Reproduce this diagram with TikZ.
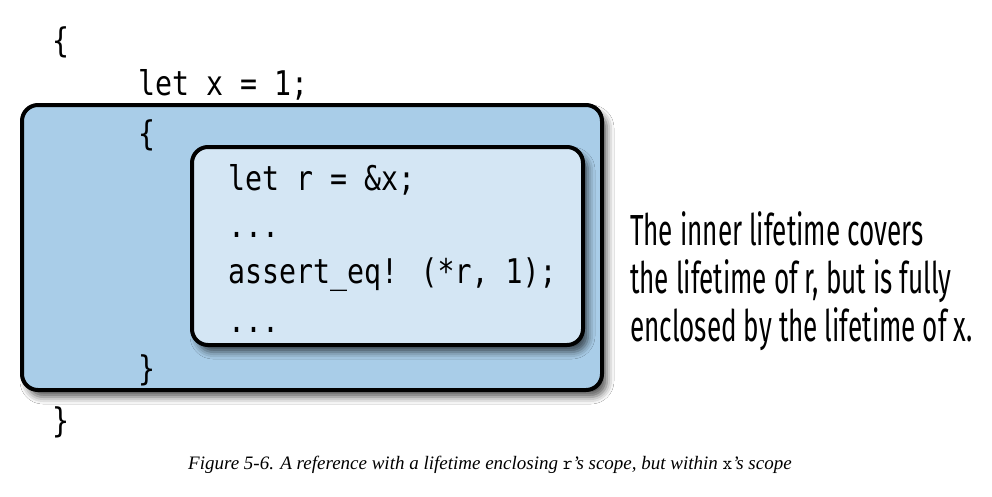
\documentclass[tikz,border=0pt]{standalone}
\usepackage{fontspec}
\usetikzlibrary{shadows.blur}
\newfontfamily\codefont{DejaVu Sans Mono}[FakeStretch=0.83]
\newfontfamily\notefont{Fira Sans}[FakeStretch=0.60]
\newfontfamily\capfont{Liberation Serif}
\definecolor{outerblue}{HTML}{A9CDE8}
\definecolor{innerblue}{HTML}{D4E6F4}
\tikzset{
  scopebox/.style={draw=black, line width=4pt, rounded corners=16pt,
    blur shadow={shadow xshift=5pt, shadow yshift=-7pt, shadow blur radius=7pt, shadow opacity=65}},
  code/.style={font=\codefont\fontsize{34}{40}\selectfont, anchor=base west, inner sep=0pt},
  note/.style={font=\notefont\fontsize{43.5}{48}\selectfont, anchor=base west, inner sep=0pt},
  caption/.style={font=\capfont\itshape\fontsize{19}{22}\selectfont, anchor=base west, inner sep=0pt}
}
\begin{document}
\begin{tikzpicture}[x=1pt,y=-1pt]
\useasboundingbox (0,0) rectangle (992,496);
\fill[white] (0,0) rectangle (992,496);
% outer scope box
\path[scopebox, fill=outerblue] (22,105) rectangle (602,390);
\coordinate (outerbox) at (312,247);
% inner scope box
\path[scopebox, fill=innerblue] (192,147) rectangle (583,345);
\coordinate (innerbox) at (387,246);
% code
\node[code] (b1) at (52,52) {\{};
\node[code] (l1) at (138,95) {let x = 1;};
\node[code] (b2) at (138,145) {\{};
\node[code] (l2) at (228,190) {let r = \&x;};
\node[code] (l3) at (228,237) {...};
\node[code] (l4) at (228,283) {assert{\char"5F}eq! (*r, 1);};
\node[code] (l5) at (228,332) {...};
\node[code] (b3) at (138,380) {\}};
\node[code] (b4) at (52,432) {\}};
% note
\node[note] (n1) at (630,245) {The inner lifetime covers};
\node[note] (n2) at (630,293) {the lifetime of r, but is fully};
\node[note] (n3) at (630,341) {enclosed by the lifetime of x.};
% caption
\node[caption] (cap) at (188,469) {Figure 5-6. A reference with a lifetime enclosing {\upshape\ttfamily r}’s scope, but within {\upshape\ttfamily x}’s scope};
\end{tikzpicture}
\end{document}
